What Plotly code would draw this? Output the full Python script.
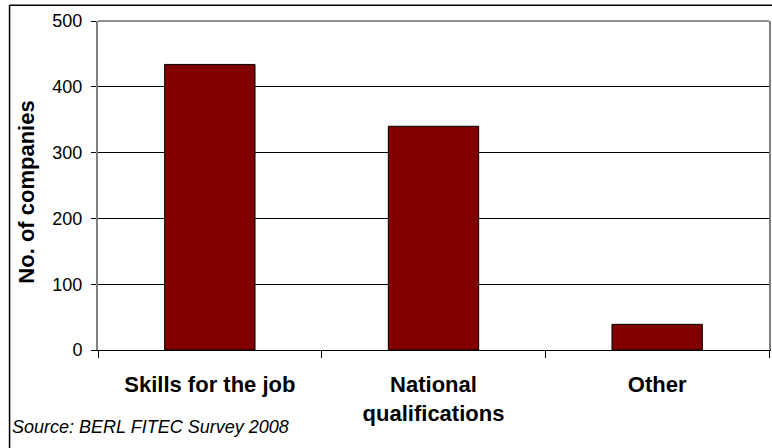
import plotly.graph_objects as go

categories = ["Skills for the job", "National<br>qualifications", "Other"]
values = [434, 340, 39]
y_ticks = [0, 100, 200, 300, 400, 500]
y_title = "No. of companies"
source_text = "Source: BERL FITEC Survey 2008"

W, H = 772, 448
L, R, T, B = 97.7, 1.3, 20.7, 98
pw, ph = W - L - R, H - T - B

def px2x(px):
    return (px - L) / pw

def py2y(py):
    return (H - B - py) / ph

FONT = "Liberation Sans, Arial, sans-serif"

fig = go.Figure(go.Bar(
    x=categories, y=values,
    marker=dict(color="#800000", line=dict(color="#000000", width=1)),
    width=0.404,
))

fig.update_layout(
    width=W, height=H,
    margin=dict(l=L, r=R, t=T, b=B, pad=0),
    paper_bgcolor="white", plot_bgcolor="white",
    showlegend=False,
    font=dict(family=FONT, color="#000000"),
    xaxis=dict(
        tickson="boundaries", ticks="outside", ticklen=7, tickcolor="#000000",
        showline=True, linecolor="#000000", linewidth=1,
        showgrid=False,
        tickfont=dict(size=22, family=FONT, color="#000000", weight="bold"),
        ticklabelstandoff=15,
    ),
    yaxis=dict(
        range=[0, 500], tickvals=y_ticks, ticks="outside", ticklen=5,
        tickcolor="#000000",
        showline=True, linecolor="#808080", linewidth=2, mirror=True,
        showgrid=True, gridcolor="#000000", gridwidth=1,
        zeroline=False,
        tickfont=dict(size=18, family=FONT, color="#000000"),
        ticklabelstandoff=5,
    ),
    shapes=[
        dict(type="line", xref="paper", yref="paper", x0=0, x1=1, y0=1, y1=1,
             line=dict(color="#909090", width=2)),
        dict(type="line", xref="paper", yref="paper", x0=px2x(9), x1=px2x(9),
             y0=py2y(5), y1=py2y(460), line=dict(color="#000000", width=1.5)),
        dict(type="line", xref="paper", yref="paper", x0=px2x(9), x1=px2x(790),
             y0=py2y(5), y1=py2y(5), line=dict(color="#000000", width=1.5)),
    ],
    annotations=[
        dict(text="<b>" + y_title + "</b>", textangle=-90, xref="paper", yref="paper",
             x=px2x(26), y=py2y(192), xanchor="center", yanchor="middle",
             showarrow=False, font=dict(size=22, family=FONT, color="#000000")),
        dict(text="<i>" + source_text + "</i>", xref="paper", yref="paper",
             x=px2x(9), y=py2y(427), xanchor="left", yanchor="middle",
             showarrow=False, font=dict(size=18, family=FONT, color="#000000")),
    ],
)

fig.write_html("out.html")
